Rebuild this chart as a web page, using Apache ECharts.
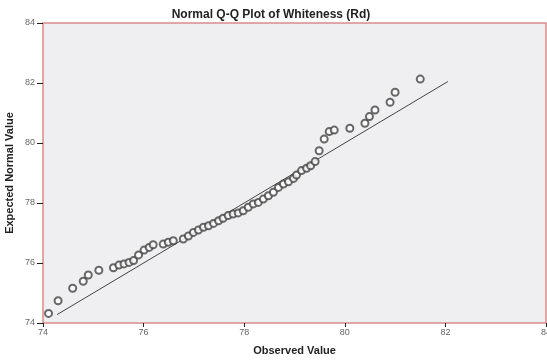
<!DOCTYPE html>
<html>
<head>
<meta charset="utf-8">
<script src="https://cdn.jsdelivr.net/npm/echarts@6/dist/echarts.min.js"></script>
<style>
  html, body { margin: 0; padding: 0; background: #fff; }
  #chart { width: 547px; height: 361px; }
</style>
</head>
<body>
<div id="chart"></div>
<script>
var observed = [74.11, 74.30, 74.59, 74.80, 74.90, 75.11, 75.40, 75.51, 75.61, 75.71,
  75.80, 75.90, 76.01, 76.11, 76.19, 76.39, 76.49, 76.59, 76.79, 76.89,
  76.99, 77.09, 77.19, 77.29, 77.39, 77.49, 77.58, 77.68, 77.78, 77.88,
  77.98, 78.08, 78.18, 78.28, 78.38, 78.48, 78.58, 78.68, 78.78, 78.88,
  78.98, 79.04, 79.14, 79.24, 79.32, 79.41, 79.49, 79.59, 79.69, 79.79,
  80.10, 80.40, 80.49, 80.60, 80.90, 81.00, 81.50]
var expected = [74.32, 74.74, 75.16, 75.39, 75.60, 75.76, 75.84, 75.93, 75.97, 76.02,
  76.08, 76.27, 76.43, 76.52, 76.61, 76.63, 76.69, 76.74, 76.80, 76.90,
  77.02, 77.10, 77.19, 77.24, 77.32, 77.41, 77.49, 77.58, 77.63, 77.67,
  77.74, 77.86, 77.97, 78.02, 78.13, 78.24, 78.36, 78.52, 78.63, 78.71,
  78.82, 78.93, 79.08, 79.16, 79.24, 79.38, 79.74, 80.13, 80.38, 80.43,
  80.49, 80.66, 80.88, 81.10, 81.36, 81.69, 82.13]
// reference line end points
var refLine = [[74.28, 74.28], [82.05, 82.05]]
var axisMin = 74
var axisMax = 84
var axisStep = 2

var points = []
for (var i = 0; i < observed.length; i++) {
  points.push([observed[i], expected[i]])
}

var chart = echarts.init(document.getElementById('chart'))
var labelStyle = { color: '#666', fontSize: 9, fontFamily: 'Liberation Sans' }
var nameStyle = { color: '#222', fontSize: 11, fontWeight: 'bold', fontFamily: 'Liberation Sans' }

chart.setOption({
  backgroundColor: '#ffffff',
  animation: false,
  title: {
    text: 'Normal Q-Q Plot of Whiteness (Rd)',
    left: 266,
    textAlign: 'center',
    top: 4,
    textStyle: { color: '#222', fontSize: 12, fontWeight: 'bold', fontFamily: 'Liberation Sans' }
  },
  grid: {
    left: 43, right: 1, top: 23, bottom: 38,
    outerBoundsMode: 'none',
    containLabel: false,
    show: true,
    backgroundColor: '#efeff1',
    borderColor: '#d98a8a',
    borderWidth: 1.5
  },
  xAxis: {
    type: 'value',
    min: axisMin, max: axisMax, interval: axisStep,
    name: 'Observed Value',
    nameLocation: 'middle',
    nameGap: 22,
    nameTextStyle: nameStyle,
    axisLine: { show: false },
    axisTick: { show: true, inside: false, length: 4, lineStyle: { color: '#222' } },
    axisLabel: Object.assign({ margin: 5 }, labelStyle),
    splitLine: { show: false }
  },
  yAxis: {
    type: 'value',
    min: axisMin, max: axisMax, interval: axisStep,
    name: 'Expected Normal Value',
    nameLocation: 'middle',
    nameGap: 28,
    nameMoveOverlap: false,
    nameTextStyle: nameStyle,
    axisLine: { show: false },
    axisTick: { show: true, inside: false, length: 6, lineStyle: { color: '#222' } },
    axisLabel: Object.assign({ margin: 8 }, labelStyle),
    splitLine: { show: false }
  },
  series: [
    {
      type: 'line',
      data: refLine,
      symbol: 'none',
      lineStyle: { color: '#444', width: 1 },
      z: 1
    },
    {
      type: 'scatter',
      data: points,
      symbol: 'emptyCircle',
      symbolSize: 7,
      itemStyle: { color: '#444', borderColor: '#444', borderWidth: 1.3 },
      z: 2
    }
  ]
})
</script>
</body>
</html>
